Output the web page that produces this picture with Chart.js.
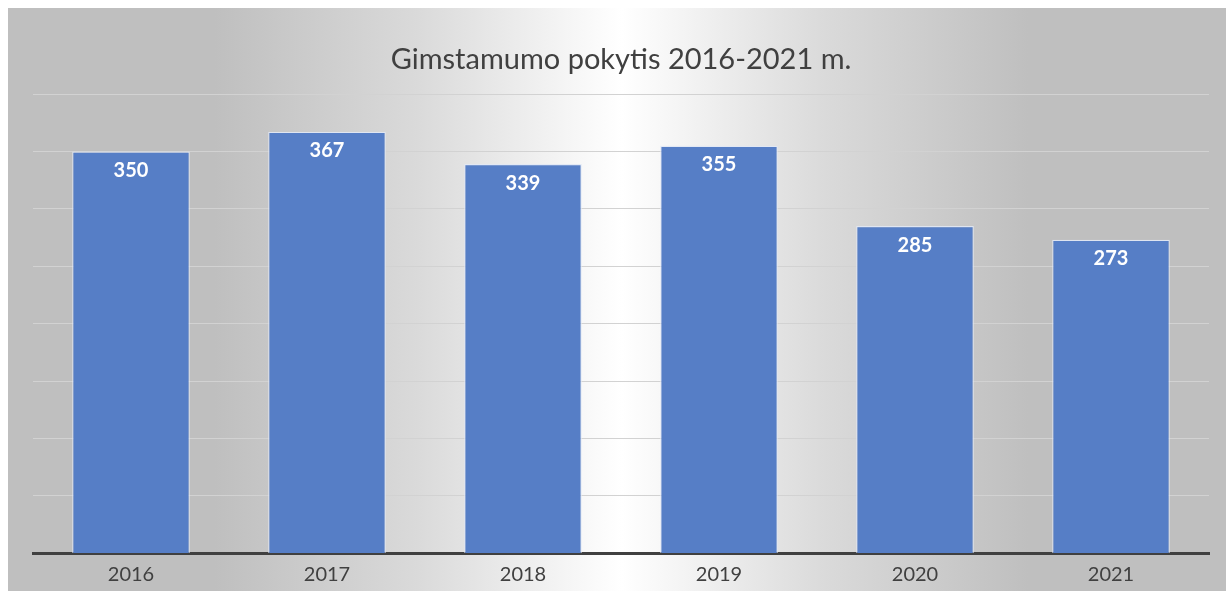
<!DOCTYPE html>
<html>
<head>
<meta charset="utf-8">
<script src="https://cdn.jsdelivr.net/npm/chart.js@4"></script>
<style>
html,body{margin:0;padding:0;background:#ffffff;}
#wrap{width:1226px;height:591px;position:relative;}
</style>
</head>
<body>
<div id="wrap"><canvas id="c" width="1226" height="591"></canvas></div>
<script>
const categories = ['2016', '2017', '2018', '2019', '2020', '2021'];
const births = [350, 367, 339, 355, 285, 273];
const chartTitle = 'Gimstamumo pokytis 2016-2021 m.';

const bgPlugin = {
  id: 'bg',
  beforeDraw(chart) {
    const ctx = chart.ctx;
    ctx.save();
    ctx.fillStyle = '#ffffff';
    ctx.fillRect(0, 0, chart.width, chart.height);
    const g = ctx.createLinearGradient(215, 0, 1028, 0);
    g.addColorStop(0, '#bfbfbf');
    g.addColorStop(0.25, '#dadada');
    g.addColorStop(0.5, '#ffffff');
    g.addColorStop(0.75, '#dadada');
    g.addColorStop(1, '#bfbfbf');
    ctx.fillStyle = g;
    ctx.fillRect(8, 8, chart.width - 8, chart.height - 8);
    ctx.restore();
  }
};

const labelPlugin = {
  id: 'valueLabels',
  afterDatasetsDraw(chart) {
    const ctx = chart.ctx;
    const meta = chart.getDatasetMeta(0);
    ctx.save();
    ctx.fillStyle = '#ffffff';
    ctx.font = 'bold 20px Lato, "Open Sans", sans-serif';
    ctx.textAlign = 'center';
    ctx.textBaseline = 'middle';
    meta.data.forEach((bar, i) => {
      ctx.fillText(String(chart.data.datasets[0].data[i]), bar.x, bar.y + 19);
    });
    ctx.restore();
  }
};

new Chart(document.getElementById('c'), {
  type: 'bar',
  data: {
    labels: categories,
    datasets: [{
      data: births,
      backgroundColor: '#567ec6',
      borderColor: 'rgba(225,232,245,0.9)',
      borderWidth: 1.2,
      categoryPercentage: 1,
      barPercentage: 0.6
    }]
  },
  options: {
    responsive: false,
    animation: false,
    layout: { padding: { left: 33, right: 17, top: 0, bottom: -4.4 } },
    plugins: {
      legend: { display: false },
      tooltip: { enabled: false },
      title: {
        display: true,
        text: chartTitle,
        color: '#404040',
        font: { family: 'Lato, "Open Sans", sans-serif', size: 29, weight: 'normal' },
        padding: { top: 42.6, bottom: 16.6 }
      }
    },
    scales: {
      x: {
        grid: { display: false, drawTicks: false },
        border: { display: true, color: '#404040', width: 3 },
        ticks: { color: '#404040', font: { family: 'Lato, "Open Sans", sans-serif', size: 20 }, padding: 9 }
      },
      y: {
        min: 0,
        max: 400,
        ticks: { display: false, stepSize: 50 },
        grid: { color: '#d2d2d2', lineWidth: 1, drawTicks: false },
        border: { display: false }
      }
    }
  },
  plugins: [bgPlugin, labelPlugin]
});
</script>
</body>
</html>
